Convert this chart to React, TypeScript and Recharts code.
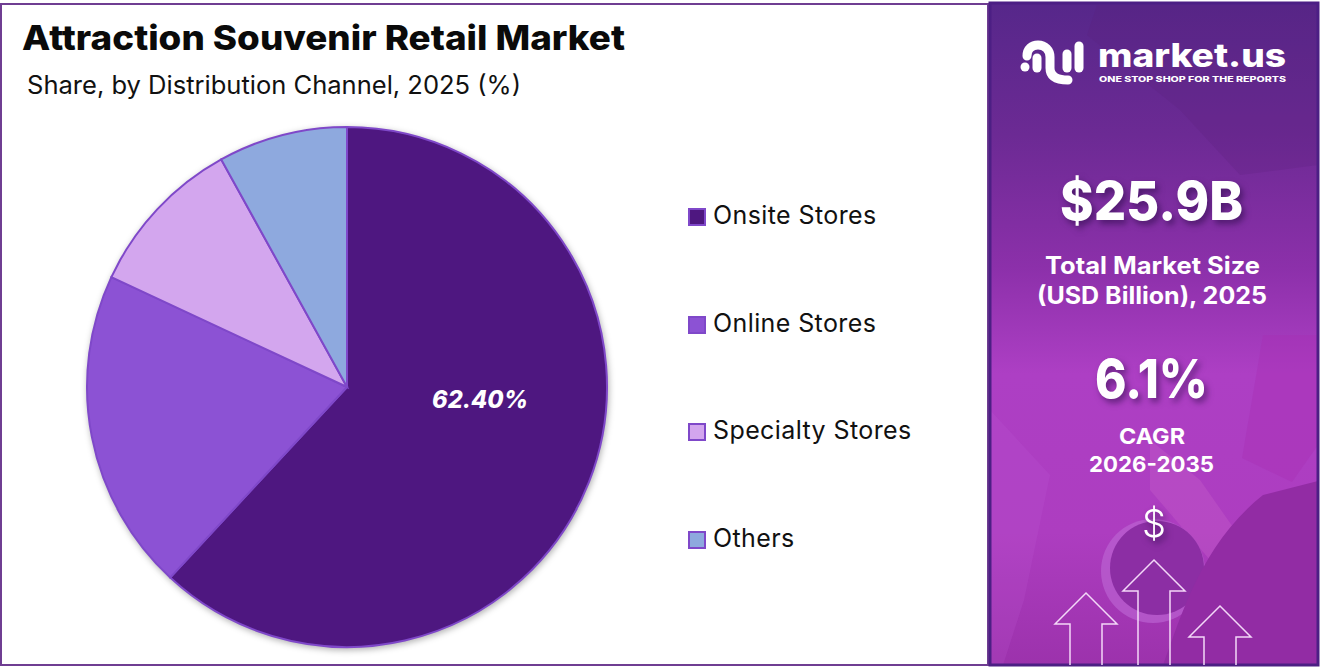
import { PieChart, Pie, Cell, Legend } from 'recharts';

const categories = ['Onsite Stores', 'Online Stores', 'Specialty Stores', 'Others'];
const shareValues = [62.4, 20.2, 10.1, 8.1];
const COLORS = ['#4e1780', '#8c52d4', '#d3a6ee', '#8ea9de'];

const data = categories.map((name, i) => ({ name, value: shareValues[i] }));

const FONT = 'Inter, "Open Sans", sans-serif';
const EDGE = '#7f48c9';

function renderLabel(props: any) {
    if (props.index !== 0) return null;
    return (
        <text
            x={props.cx + 133}
            y={props.cy + 21}
            textAnchor="middle"
            fill="#fff"
            fontFamily={FONT}
            fontSize={24}
            fontWeight={800}
            fontStyle="italic"
            textLength={96}
            lengthAdjust="spacingAndGlyphs"
        >
            {shareValues[0].toFixed(2)}%
        </text>
    );
}

function LegendList({ payload }: any) {
    return (
        <div style={{ fontFamily: FONT, fontSize: 25, color: '#111' }}>
            {(payload || []).map((item: any) => (
                <div key={item.value} style={{ height: 107.5, display: 'flex', alignItems: 'flex-start' }}>
                    <span
                        style={{
                            width: 14,
                            height: 14,
                            marginTop: 9,
                            marginRight: 7,
                            background: item.color,
                            border: `2px solid ${EDGE}`,
                            flex: 'none',
                        }}
                    />
                    <span style={{ lineHeight: '32px', whiteSpace: 'nowrap', letterSpacing: 0.4 }}>{item.value}</span>
                </div>
            ))}
        </div>
    );
}

function Fit({ x, y, w, size, weight = 700, anchor = 'start', fill = '#fff', shadow, children }: any) {
    return (
        <text
            x={x}
            y={y}
            fontFamily={FONT}
            fontSize={size}
            fontWeight={weight}
            textAnchor={anchor}
            fill={fill}
            textLength={w}
            lengthAdjust="spacingAndGlyphs"
            style={shadow ? { filter: 'drop-shadow(3px 4px 3px rgba(40,10,70,0.55))' } : undefined}
        >
            {children}
        </text>
    );
}

function Arrow({ x, top }: { x: number; top: number }) {
    const wing = top + 31;
    return (
        <path
            d={`M${x - 16} 665 V${wing} H${x - 31} L${x} ${top} L${x + 31} ${wing} H${x + 16} V665`}
            fill="none"
            stroke="#f3d8f8"
            strokeWidth={1.5}
        />
    );
}

function Overlay() {
    return (
        <svg width={1320} height={670} style={{ position: 'absolute', left: 0, top: 0, pointerEvents: 'none' }}>
            <defs>
                <linearGradient id="panelBg" x1="0" y1="0" x2="0" y2="1">
                    <stop offset="0" stopColor="#56278a" />
                    <stop offset="0.2" stopColor="#6c2a94" />
                    <stop offset="0.4" stopColor="#8c30aa" />
                    <stop offset="0.56" stopColor="#ad3fc4" />
                    <stop offset="0.8" stopColor="#ad3dc0" />
                    <stop offset="1" stopColor="#9c32ac" />
                </linearGradient>
                <clipPath id="panelClip">
                    <rect x={990} y={3} width={328} height={662} />
                </clipPath>
            </defs>

            <rect x={1} y={4} width={987} height={661} fill="none" stroke="#6f3d92" strokeWidth={2} />

            <g clipPath="url(#panelClip)">
                <rect x={990} y={3} width={328} height={662} fill="url(#panelBg)" />
                <polygon points="1087,35 1097,5 1318,5 1318,165 1240,175 1180,110" fill="#5c1f7a" opacity={0.22} />
                <polygon points="990,410 1050,475 1024,600 1003,665 990,665" fill="#c060d8" opacity={0.18} />
                <polygon points="1263,335 1318,335 1318,445 1292,482 1242,458" fill="#a82fb4" opacity={0.4} />
                <polygon points="1150,440 1200,480 1235,530 1210,560 1150,490" fill="#c45cc8" opacity={0.4} />
                <circle cx={1153} cy={571} r={52} fill="#bb62d2" opacity={0.7} />
                <circle cx={1157} cy={568} r={47} fill="#8c2ea4" />
                <path d="M1163 665 C1180 620 1200 545 1263 495 L1318 481 V665 Z" fill="#922ca4" />
            </g>
            <rect x={990} y={3} width={328} height={662} fill="none" stroke="#4c1f84" strokeWidth={3} />

            <Fit x={22} y={50} w={603} size={34} weight={800} fill="#0a0a0a">Attraction Souvenir Retail Market</Fit>
            <Fit x={27} y={94} w={494} size={25} weight={400} fill="#111">Share, by Distribution Channel, 2025 (%)</Fit>

            <g fill="none" stroke="#fff" strokeWidth={9} strokeLinecap="round">
                <path d="M1027 56 C1027 49 1032 45 1038 45 C1045 45 1050 50 1050 57 V68 C1050 76 1056 80 1068 80" />
                <path d="M1037 58 V68" />
                <path d="M1067 54 V68" />
                <path d="M1079 46 V68" />
            </g>
            <circle cx={1025} cy={67} r={4.5} fill="#fff" />
            <Fit x={1098} y={67} w={188} size={32} weight={800}>market.us</Fit>
            <Fit x={1099} y={82} w={187} size={7.5} weight={800}>ONE STOP SHOP FOR THE REPORTS</Fit>

            <Fit x={1060} y={220} w={183} size={54} weight={800} shadow>$25.9B</Fit>
            <Fit x={1045} y={274} w={215} size={24} weight={700}>Total Market Size</Fit>
            <Fit x={1037} y={304} w={230} size={24} weight={700}>(USD Billion), 2025</Fit>
            <Fit x={1095} y={398} w={113} size={54} weight={800} shadow>6.1%</Fit>
            <Fit x={1119} y={444} w={66} size={22} weight={700}>CAGR</Fit>
            <Fit x={1089} y={472} w={125} size={22} weight={700}>2026-2035</Fit>
            <Fit x={1154} y={537} size={38} weight={300} anchor="middle" shadow>$</Fit>

            <Arrow x={1086} top={593} />
            <Arrow x={1154} top={560} />
            <Arrow x={1220} top={606} />
        </svg>
    );
}

export default function App() {
    return (
        <div style={{ position: 'absolute', left: 0, top: 0, width: 1320, height: 670, background: '#fff', overflow: 'hidden' }}>
            <style>{`.recharts-pie { filter: drop-shadow(1px 2px 3px rgba(0,0,0,0.3)); }`}</style>
            <PieChart width={985} height={670} margin={{ top: 0, right: 0, bottom: 0, left: 0 }}>
                <Pie
                    data={data}
                    dataKey="value"
                    nameKey="name"
                    cx={347}
                    cy={387}
                    outerRadius={260}
                    startAngle={90}
                    endAngle={-270}
                    stroke={EDGE}
                    strokeWidth={2}
                    label={renderLabel}
                    labelLine={false}
                    isAnimationActive={false}
                >
                    {data.map((_, index) => (
                        <Cell key={`cell-${index}`} fill={COLORS[index % COLORS.length]} />
                    ))}
                </Pie>
                <Legend
                    layout="vertical"
                    align="right"
                    verticalAlign="top"
                    itemSorter={null}
                    content={<LegendList />}
                    wrapperStyle={{ left: 688, right: 'auto', top: 199, width: 280 }}
                />
            </PieChart>
            <Overlay />
        </div>
    );
}
